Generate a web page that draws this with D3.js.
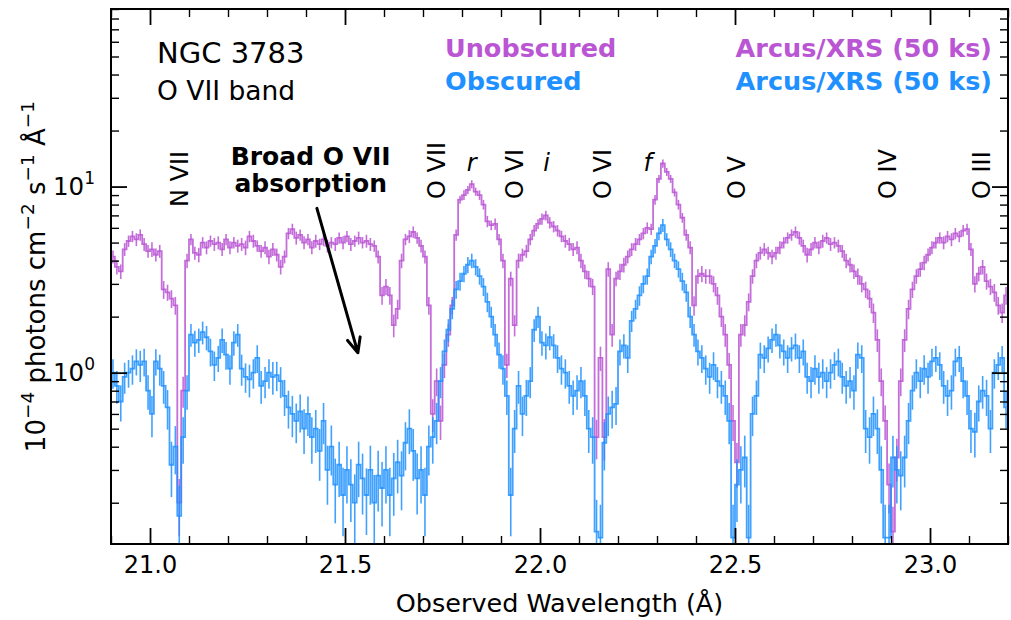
<!DOCTYPE html>
<html>
<head>
<meta charset="utf-8">
<script src="https://cdn.jsdelivr.net/npm/d3@7"></script>
<style>
  body { margin: 0; background: #fff; }
  svg { font-family: "DejaVu Sans", sans-serif; }
</style>
</head>
<body>
<svg id="chart"></svg>
<script>
// Spectral binning (Angstrom)
const binStart = 20.90;
const binWidth = 0.01;

// Unobscured spectrum, 1e-4 photons cm^-2 s^-1 A^-1
const unobscured = [
  4.2,3.7,3.5,4.6,5.1,5.4,5.2,5.5,4.9,4.5,
  4.6,4.3,4.5,2.8,2.7,2.5,2.3,0.2,0.8,4.0,
  5.2,4.4,4.3,5.0,4.7,5.1,4.9,5.0,4.6,5.2,
  4.7,5.0,4.8,4.9,4.7,5.4,5.1,4.8,4.5,4.7,
  4.2,4.6,4.3,3.7,4.2,5.6,5.9,5.3,5.5,5.0,
  5.2,4.7,5.1,4.9,5.2,4.8,5.0,4.9,5.3,5.0,
  5.4,4.9,5.1,5.3,5.0,5.1,4.9,4.8,4.2,2.6,
  2.9,2.6,1.8,2.2,4.0,5.2,5.4,5.7,5.3,4.8,
  4.2,2.3,0.6,0.9,0.55,1.1,1.6,2.3,5.5,8.5,
  9.0,9.6,10.3,9.4,9.0,8.0,6.5,6.2,6.3,5.2,
  4.0,1.1,3.2,1.8,4.0,4.3,4.5,5.2,5.8,6.3,
  6.7,7.0,6.4,6.1,5.8,5.4,5.1,4.9,4.6,4.7,
  4.0,3.5,3.2,2.9,0.45,1.2,0.45,3.6,1.6,3.2,
  3.5,3.8,4.2,4.6,4.9,5.2,5.6,6.0,5.9,8.5,
  11.0,13.3,12.0,11.0,9.3,8.0,6.8,5.5,4.7,2.3,
  3.3,3.4,3.3,3.3,3.0,2.6,2.0,1.6,1.1,0.55,
  0.33,1.6,1.8,2.4,3.3,4.0,4.4,4.6,4.4,4.2,
  4.4,4.7,5.0,5.3,5.5,5.7,5.3,4.8,4.3,4.6,
  5.0,4.7,5.1,5.3,4.9,5.0,4.8,4.5,4.0,3.8,
  3.5,3.3,3.0,2.8,2.5,2.1,1.5,0.9,0.55,0.25,
  0.14,0.35,0.9,1.5,2.2,2.8,3.3,3.6,3.9,4.3,
  4.7,5.0,5.3,5.0,5.4,5.2,5.6,5.4,5.8,5.9,
  4.6,3.0,3.4,3.7,3.1,2.9,2.7,2.3,2.1,2.6
];
// 1-sigma error, percent of flux
const unobscuredErrPct = [
  8,9,9,8,7,7,8,7,8,8,
  9,8,8,11,10,11,11,34,19,9,
  7,8,9,7,8,7,8,8,8,7,
  8,7,8,8,9,7,8,7,8,8,
  9,8,8,9,8,7,7,8,7,8,
  7,8,8,7,8,8,7,8,7,8,
  7,8,7,8,7,8,8,7,8,11,
  10,11,14,12,9,7,8,7,7,8,
  8,11,20,17,21,15,14,11,7,5,
  6,5,5,5,6,6,7,6,7,7,
  9,15,9,13,9,8,8,7,7,6,
  7,6,7,7,7,7,8,8,8,8,
  9,9,10,10,24,15,25,9,14,9,
  10,9,8,8,8,7,7,7,7,6,
  5,5,5,5,5,6,6,7,8,12,
  9,10,9,9,10,11,12,14,16,22,
  27,14,13,11,9,9,8,8,8,9,
  8,8,7,7,7,7,8,8,9,8,
  7,8,8,7,8,7,8,8,9,9,
  9,10,10,10,11,12,14,17,21,30,
  36,26,17,14,12,10,9,9,9,8,
  8,7,7,8,7,8,7,7,7,7,
  8,10,9,9,10,10,11,11,12,11
];

// Obscured spectrum
const obscured = [
  1.0,0.85,0.7,0.95,1.0,1.05,1.15,1.1,1.15,0.8,
  0.6,1.15,1.05,0.85,0.65,0.32,0.4,0.17,0.45,0.8,
  1.6,1.45,1.5,1.65,1.55,1.3,1.1,1.2,1.5,1.25,
  1.05,1.45,1.6,1.05,0.95,0.92,1.0,1.2,0.85,0.9,
  1.0,0.95,0.97,0.9,0.75,0.65,0.6,0.55,0.62,0.5,
  0.6,0.45,0.5,0.38,0.55,0.3,0.4,0.25,0.32,0.22,
  0.3,0.25,0.2,0.32,0.27,0.22,0.3,0.2,0.28,0.24,
  0.3,0.22,0.27,0.33,0.28,0.42,0.5,0.38,0.27,0.3,
  0.22,0.4,0.45,0.55,0.9,1.3,1.7,2.2,2.8,3.1,
  3.4,3.8,4.0,3.7,3.3,2.9,2.4,2.0,1.6,1.25,
  1.05,0.75,0.22,0.5,0.85,0.6,0.75,0.9,1.7,2.0,
  1.45,1.4,1.55,1.4,1.2,1.05,1.0,0.85,0.75,0.8,
  0.9,0.75,0.5,0.45,0.14,0.13,0.42,0.6,0.65,0.68,
  1.3,1.4,1.2,1.9,2.2,2.6,3.0,3.3,4.2,4.8,
  5.6,6.2,5.2,4.6,4.0,3.6,3.1,2.7,2.0,1.6,
  1.3,1.2,1.05,0.95,1.1,0.9,0.85,0.75,0.55,0.13,
  0.25,0.3,0.35,0.13,0.6,0.75,1.25,1.2,1.35,1.5,
  1.6,1.4,1.3,1.2,1.35,1.4,1.2,1.3,0.95,0.9,
  1.05,0.95,1.0,0.9,1.0,1.1,1.15,0.95,0.85,0.9,
  0.8,1.25,1.2,0.5,0.45,0.6,0.5,0.3,0.13,0.13,
  0.35,0.3,0.28,0.35,0.55,0.8,1.0,0.9,1.05,0.95,
  1.15,1.2,1.1,0.85,0.75,0.8,1.15,1.2,0.9,0.75,
  0.5,0.48,0.7,0.8,0.75,0.5,1.0,1.1,1.2,0.65
];
const obscuredErrPct = [
  18,20,22,19,17,18,16,19,17,21,
  25,16,19,20,24,33,29,45,28,21,
  14,16,15,14,15,17,18,16,15,17,
  18,15,14,19,18,20,18,17,20,19,
  18,20,18,19,22,23,25,24,23,27,
  24,28,26,31,25,35,30,38,33,40,
  34,37,42,33,36,39,35,41,36,38,
  34,40,37,32,35,29,27,31,36,34,
  40,30,28,25,19,16,14,12,11,11,
  10,10,9,10,10,11,12,13,14,16,
  18,21,40,26,20,24,22,19,14,13,
  15,16,15,15,17,18,18,20,21,21,
  19,22,26,28,48,50,29,24,23,23,
  16,15,17,13,12,12,11,10,9,9,
  8,8,8,9,9,10,11,11,13,14,
  16,17,18,19,17,19,20,21,25,50,
  37,34,31,50,24,21,16,17,16,15,
  14,15,16,17,15,16,17,16,19,19,
  18,19,18,19,18,17,17,19,20,19,
  21,16,17,26,28,24,27,34,50,50,
  31,34,35,31,25,21,18,19,18,19,
  17,16,17,20,22,21,17,16,19,21,
  26,27,22,20,22,26,18,17,16,23
];

const xMajorTicks = [21.0, 21.5, 22.0, 22.5, 23.0];
const yMajorTicks = [1, 10];
const yTickExponents = ['0', '1'];

const ionLabels = [
  {name: 'N VII', wl: 21.076, base: 207},
  {name: 'O VII', wl: 21.735, base: 199},
  {name: 'O VI',  wl: 21.935, base: 199},
  {name: 'O VI',  wl: 22.161, base: 199},
  {name: 'O V',   wl: 22.504, base: 199},
  {name: 'O IV',  wl: 22.891, base: 199},
  {name: 'O III', wl: 23.132, base: 199}
];
const tripletLabels = [
  {name: 'r', wl: 21.825},
  {name: 'i', wl: 22.017},
  {name: 'f', wl: 22.276}
];

const colors = {unobscured: '#BA55D3', obscured: '#1E90FF'};

const W = 1011, H = 620;
const margin = {top: 9, right: 3, bottom: 76, left: 111};
const width = W - margin.left - margin.right;
const height = H - margin.top - margin.bottom;

const svg = d3.select('#chart').attr('width', W).attr('height', H);
const chart = svg.append('g').attr('transform', `translate(${margin.left},${margin.top})`);

const x = d3.scaleLinear().domain([20.9, 23.2]).range([0, width]);
const y = d3.scaleLog().domain([0.12, 90]).range([height, 0]);

svg.append('defs').append('clipPath').attr('id', 'plot-clip')
  .append('rect').attr('width', width).attr('height', height);

const binCenters = unobscured.map((_, i) => binStart + (i + 0.5) * binWidth);

const plot = chart.append('g').attr('clip-path', 'url(#plot-clip)');

function drawSeries(flux, errPct, color) {
  const pts = flux.map((f, i) => ({wl: binCenters[i], f: f, e: f * errPct[i] / 100}));
  const g = plot.append('g');
  g.selectAll('line')
    .data(pts)
    .enter()
    .append('line')
      .attr('x1', d => x(d.wl))
      .attr('x2', d => x(d.wl))
      .attr('y1', d => y(Math.max(d.f - d.e, 0.01)))
      .attr('y2', d => y(d.f + d.e))
      .attr('stroke', color)
      .attr('stroke-opacity', 0.85)
      .attr('stroke-width', 1.6);
  g.append('path')
    .datum(pts)
    .attr('fill', 'none')
    .attr('stroke', color)
    .attr('stroke-opacity', 0.85)
    .attr('stroke-width', 1.8)
    .attr('d', d3.line().x(d => x(d.wl)).y(d => y(d.f)).curve(d3.curveStep));
}

drawSeries(unobscured, unobscuredErrPct, colors.unobscured);
drawSeries(obscured, obscuredErrPct, colors.obscured);

// Axes: inward ticks on all four sides
const isMajorX = v => xMajorTicks.some(t => Math.abs(t - v) < 1e-6);
const xMinor = x.ticks(23).filter(v => !isMajorX(v));
const yMinor = y.ticks().filter(v => !yMajorTicks.some(t => Math.abs(t - v) < 1e-9));

function styleTicks(g, w) {
  g.select('.domain').remove();
  g.selectAll('.tick line').attr('stroke', '#000').attr('stroke-width', w);
}

const xAxis = d3.axisBottom(x).tickValues(xMajorTicks).tickSize(-16).tickSizeOuter(0)
  .tickPadding(12).tickFormat(d3.format('.1f'));
chart.append('g').attr('transform', `translate(0,${height})`).call(xAxis)
  .call(g => styleTicks(g, 1.8))
  .call(g => g.selectAll('text').attr('font-size', 24).attr('font-family', 'DejaVu Sans').attr('fill', '#000'));
chart.append('g').attr('transform', `translate(0,${height})`)
  .call(d3.axisBottom(x).tickValues(xMinor).tickSize(-8).tickFormat(''))
  .call(g => styleTicks(g, 1.4));
chart.append('g')
  .call(d3.axisTop(x).tickValues(xMajorTicks).tickSize(-16).tickFormat(''))
  .call(g => styleTicks(g, 1.8));
chart.append('g')
  .call(d3.axisTop(x).tickValues(xMinor).tickSize(-8).tickFormat(''))
  .call(g => styleTicks(g, 1.4));

const yAxis = d3.axisLeft(y).tickValues(yMajorTicks).tickSize(-16).tickSizeOuter(0).tickPadding(16);
chart.append('g').call(yAxis)
  .call(g => styleTicks(g, 1.8))
  .call(g => g.selectAll('text')
    .attr('font-size', 24.5).attr('font-family', 'DejaVu Sans').attr('fill', '#000')
    .text(null)
    .each(function(d, i) {
      const t = d3.select(this);
      t.append('tspan').text('10');
      t.append('tspan').attr('font-size', 17).attr('dy', -11).text(yTickExponents[i]);
    }));
chart.append('g')
  .call(d3.axisLeft(y).tickValues(yMinor).tickSize(-8).tickFormat(''))
  .call(g => styleTicks(g, 1.4));
chart.append('g').attr('transform', `translate(${width},0)`)
  .call(d3.axisRight(y).tickValues(yMajorTicks).tickSize(-16).tickFormat(''))
  .call(g => styleTicks(g, 1.8));
chart.append('g').attr('transform', `translate(${width},0)`)
  .call(d3.axisRight(y).tickValues(yMinor).tickSize(-8).tickFormat(''))
  .call(g => styleTicks(g, 1.4));

chart.append('rect')
  .attr('width', width).attr('height', height)
  .attr('fill', 'none').attr('stroke', '#000').attr('stroke-width', 2);

// Axis titles
svg.append('text')
  .attr('x', margin.left + width / 2).attr('y', 612)
  .attr('text-anchor', 'middle').attr('font-size', 25.5)
  .text('Observed Wavelength (Å)');

const yTitle = svg.append('text')
  .attr('transform', `translate(45,${margin.top + height / 2}) rotate(-90)`)
  .attr('text-anchor', 'middle').attr('font-size', 26);
[['10', '−4'], [' photons cm', '−2'], [' s', '−1'], [' Å', '−1']].forEach(([base, sup]) => {
  yTitle.append('tspan').text(base);
  yTitle.append('tspan').attr('font-size', 18.5).attr('baseline-shift', 11).text(sup);
});

// Corner labels
svg.append('text').attr('x', 157).attr('y', 63).attr('font-size', 29).text('NGC 3783');
svg.append('text').attr('x', 157).attr('y', 100).attr('font-size', 26.5).text('O VII band');

const legendRows = [
  {left: 'Unobscured', right: 'Arcus/XRS (50 ks)', color: colors.unobscured, yPos: 57},
  {left: 'Obscured', right: 'Arcus/XRS (50 ks)', color: colors.obscured, yPos: 90}
];
legendRows.forEach(r => {
  svg.append('text').attr('x', 445).attr('y', r.yPos).attr('font-size', 25.5)
    .attr('font-weight', 'bold').attr('fill', r.color).text(r.left);
  svg.append('text').attr('x', 992).attr('y', r.yPos).attr('font-size', 25.5)
    .attr('font-weight', 'bold').attr('fill', r.color).attr('text-anchor', 'end').text(r.right);
});

// Line identifications
ionLabels.forEach(l => {
  svg.append('text')
    .attr('transform', `translate(${margin.left + x(l.wl)},${l.base}) rotate(-90)`)
    .attr('dy', '0.36em').attr('font-size', 24).text(l.name);
});
tripletLabels.forEach(l => {
  svg.append('text')
    .attr('x', margin.left + x(l.wl)).attr('y', 171)
    .attr('text-anchor', 'middle').attr('font-size', 24).attr('font-style', 'italic')
    .text(l.name);
});

// Broad absorption annotation
const note = svg.append('text').attr('font-size', 25).attr('font-weight', 'bold')
  .attr('text-anchor', 'middle');
note.append('tspan').attr('x', margin.left + x(21.412)).attr('y', 165).text('Broad O VII');
note.append('tspan').attr('x', margin.left + x(21.412)).attr('y', 192).text('absorption');

const tail = [x(21.428), y(7.64)];
const tip = [x(21.533), y(1.28)];
const ang = Math.atan2(tip[1] - tail[1], tip[0] - tail[0]);
const headLen = 16, headAng = 0.42;
const arm = s => [tip[0] - headLen * Math.cos(ang + s * headAng), tip[1] - headLen * Math.sin(ang + s * headAng)];
chart.append('path')
  .attr('d', `M${tail}L${tip}M${arm(1)}L${tip}L${arm(-1)}`)
  .attr('fill', 'none').attr('stroke', '#000').attr('stroke-width', 3)
  .attr('stroke-linecap', 'round').attr('stroke-linejoin', 'round');
</script>
</body>
</html>
